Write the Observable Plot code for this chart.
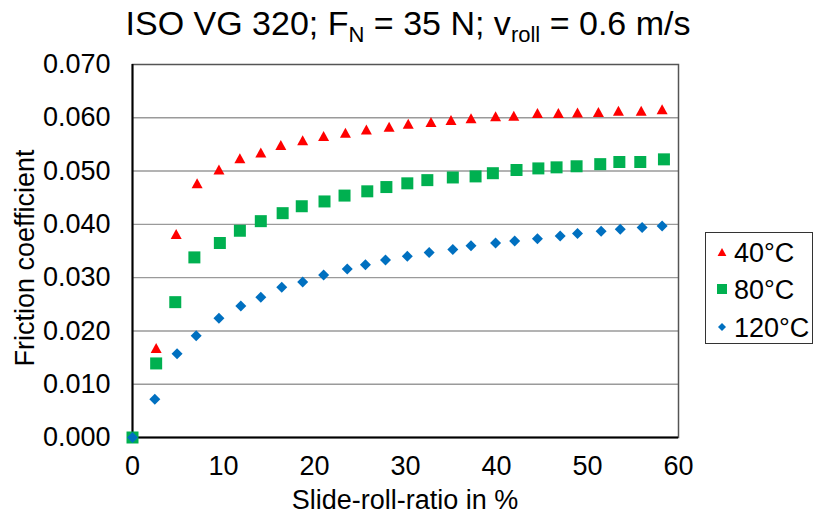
<!DOCTYPE html>
<html>
<head>
<meta charset="utf-8">
<script src="https://cdn.jsdelivr.net/npm/d3@7"></script>
<script src="https://cdn.jsdelivr.net/npm/@observablehq/plot@0.6"></script>
<style>
  html, body { margin: 0; padding: 0; background: #fff; }
  svg text { font-family: "Liberation Sans", Arial, sans-serif; }
</style>
</head>
<body>
<div id="chart"></div>
<script>
// ---- data ----
const seriesNames = ["40°C", "80°C", "120°C"];
const seriesColors = ["#FF0000", "#00B050", "#0070C0"];

const x40 = [0, 2.6, 4.8, 7.1, 9.5, 11.8, 14.1, 16.3, 18.7, 21.0, 23.4, 25.7, 28.2, 30.3, 32.8, 35.0, 37.2, 39.9, 41.9, 44.5, 46.8, 48.9, 51.2, 53.4, 55.9, 58.2];
const y40 = [0, 0.0168, 0.0382, 0.0477, 0.0503, 0.0524, 0.0535, 0.0549, 0.0558, 0.0566, 0.0572, 0.0578, 0.0583, 0.0589, 0.0592, 0.0596, 0.0599, 0.0603, 0.0604, 0.0609, 0.0609, 0.0610, 0.0611, 0.0613, 0.0613, 0.0616];

const x80 = [0, 2.6, 4.7, 6.8, 9.6, 11.8, 14.1, 16.5, 18.6, 21.1, 23.3, 25.8, 27.9, 30.2, 32.4, 35.2, 37.7, 39.6, 42.2, 44.6, 46.6, 48.8, 51.4, 53.5, 55.8, 58.4];
const y80 = [0, 0.0139, 0.0254, 0.0338, 0.0365, 0.0388, 0.0406, 0.0421, 0.0434, 0.0443, 0.0454, 0.0462, 0.0470, 0.0477, 0.0483, 0.0488, 0.0490, 0.0496, 0.0502, 0.0505, 0.0507, 0.0509, 0.0513, 0.0517, 0.0517, 0.0522];

const x120 = [0, 2.45, 4.9, 7.0, 9.5, 11.9, 14.1, 16.4, 18.7, 21.0, 23.6, 25.6, 27.8, 30.2, 32.6, 35.2, 37.2, 39.9, 42.0, 44.5, 47.0, 48.9, 51.5, 53.6, 56.0, 58.2];
const y120 = [0, 0.0072, 0.0157, 0.0191, 0.0224, 0.0247, 0.0263, 0.0282, 0.0292, 0.0305, 0.0316, 0.0324, 0.0333, 0.0340, 0.0347, 0.0353, 0.0360, 0.0365, 0.0369, 0.0373, 0.0378, 0.0383, 0.0387, 0.0391, 0.0394, 0.0397];

const xTicks = [0, 10, 20, 30, 40, 50, 60];
const yTicks = [0, 0.01, 0.02, 0.03, 0.04, 0.05, 0.06, 0.07];

// ---- custom symbols (centred on bounding box, like Excel markers) ----
const triSym = { draw(ctx, size) { const r = Math.sqrt(size / Math.PI); const w = 1.1 * r, h = r;
  ctx.moveTo(0, -h); ctx.lineTo(w, h); ctx.lineTo(-w, h); ctx.closePath(); } };
const sqSym = { draw(ctx, size) { const r = Math.sqrt(size / Math.PI);
  ctx.rect(-r, -r, 2 * r, 2 * r); } };
const diaSym = { draw(ctx, size) { const r = Math.sqrt(size / Math.PI);
  ctx.moveTo(0, -r); ctx.lineTo(r, 0); ctx.lineTo(0, r); ctx.lineTo(-r, 0); ctx.closePath(); } };
const symbols = [triSym, sqSym, diaSym];
const radii = [5, 6, 5.5];

const tables = [[x40, y40], [x80, y80], [x120, y120]].map(([xs, ys]) => xs.map((x, i) => ({x, y: ys[i]})));

const W = 814, H = 517;
const chart = Plot.plot({
  width: W, height: H,
  marginLeft: 132, marginRight: 136, marginTop: 64, marginBottom: 80,
  style: { fontFamily: "Liberation Sans, Arial, sans-serif", background: "#fff", overflow: "visible" },
  x: { domain: [0, 60], ticks: xTicks },
  y: { domain: [0, 0.07], ticks: yTicks },
  marks: [
    Plot.ruleY(yTicks.filter(t => t > 0 && t < 0.07), { stroke: "#9a9a9a", strokeWidth: 1.4 }),
    Plot.frame({ stroke: "#555", strokeWidth: 1.5 }),
    Plot.ruleX([0], { stroke: "#000", strokeWidth: 2 }),
    Plot.ruleY([0], { stroke: "#000", strokeWidth: 2 }),
    Plot.axisX({ ticks: xTicks, tickSize: 0, tickPadding: 18, fontSize: 27, label: null, tickFormat: d3.format("d"), fill: "#000" }),
    Plot.axisY({ ticks: yTicks, tickSize: 0, tickPadding: 22, fontSize: 27, label: null, tickFormat: d3.format(".3f"), fill: "#000" }),
    ...tables.map((t, i) => Plot.dot(t, { x: "x", y: "y", symbol: symbols[i], r: radii[i], fill: seriesColors[i], stroke: "none" }))
  ]
});
document.getElementById("chart").appendChild(chart);

const svg = d3.select(chart);
// Title with subscripts
const title = svg.append("text")
  .attr("x", 408).attr("y", 35).attr("text-anchor", "middle")
  .attr("font-size", 34).attr("fill", "#000");
title.append("tspan").text("ISO VG 320; F");
title.append("tspan").attr("font-size", 22).attr("dy", 7).text("N");
title.append("tspan").attr("dy", -7).text(" = 35 N; v");
title.append("tspan").attr("font-size", 22).attr("dy", 7).text("roll");
title.append("tspan").attr("dy", -7).text(" = 0.6 m/s");

// Axis titles
svg.append("text").attr("x", 405).attr("y", 509).attr("text-anchor", "middle")
  .attr("font-size", 27).attr("fill", "#000").text("Slide-roll-ratio in %");
svg.append("text").attr("transform", "translate(34,258) rotate(-90)").attr("text-anchor", "middle")
  .attr("font-size", 27).attr("fill", "#000").text("Friction coefficient");

// Legend
const lg = svg.append("g");
lg.append("rect").attr("x", 705.5).attr("y", 232.5).attr("width", 107).attr("height", 111)
  .attr("fill", "#fff").attr("stroke", "#333").attr("stroke-width", 1);
const rowsY = [252, 289, 327];
const legR = [4, 5, 4];
seriesNames.forEach((name, i) => {
  lg.append("path").attr("transform", `translate(722,${rowsY[i]})`)
    .attr("d", d3.symbol(symbols[i], Math.PI * legR[i] * legR[i])())
    .attr("fill", seriesColors[i]);
  lg.append("text").attr("x", 734).attr("y", rowsY[i] + 9.5).attr("text-anchor", "start")
    .attr("font-size", 27).attr("fill", "#000").text(name);
});
</script>
</body>
</html>
